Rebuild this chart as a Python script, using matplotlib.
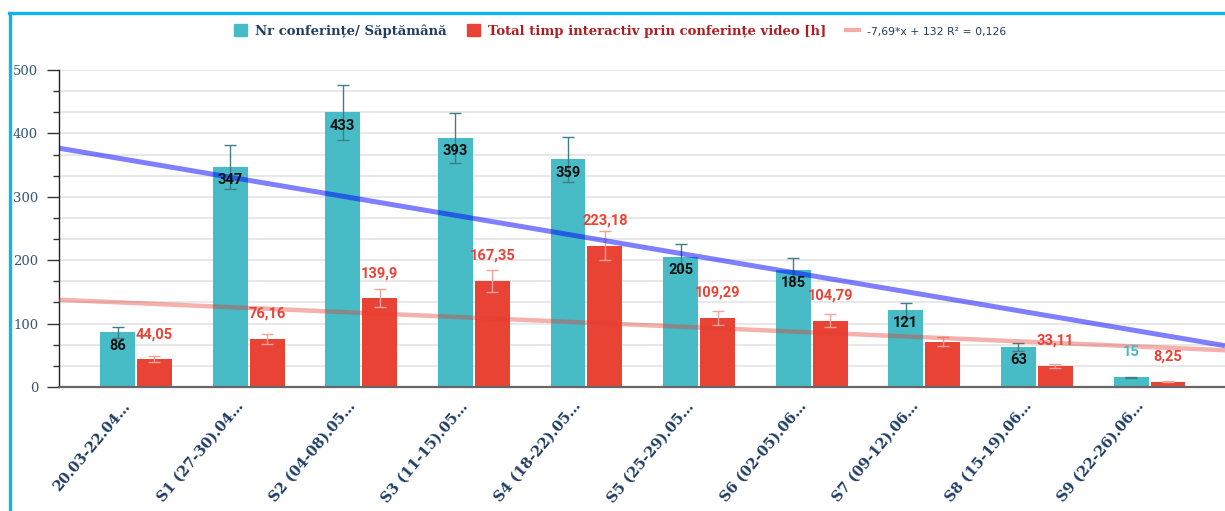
import numpy as np
import matplotlib
matplotlib.use("Agg")
import matplotlib.pyplot as plt
from matplotlib.patches import Patch
from matplotlib.lines import Line2D
from matplotlib.ticker import MultipleLocator
from matplotlib.transforms import ScaledTranslation

categories = ["20.03-22.04…", "S1 (27-30).04…", "S2 (04-08).05…", "S3 (11-15).05…",
              "S4 (18-22).05…", "S5 (25-29).05…", "S6 (02-05).06…", "S7 (09-12).06…",
              "S8 (15-19).06…", "S9 (22-26).06…"]
nr_conf = [86, 347, 433, 393, 359, 205, 185, 121, 63, 15]
timp = [44.05, 76.16, 139.9, 167.35, 223.18, 109.29, 104.79, 71, 33.11, 8.25]
timp_labels = ["44,05", "76,16", "139,9", "167,35", "223,18", "109,29", "104,79", "", "33,11", "8,25"]
err_pct = 10  # percent error bars
series_names = ["Nr conferințe/ Săptămână", "Total timp interactiv prin conferințe video [h]"]
trend_label = "-7,69*x + 132 R² = 0,126"

TEAL = "#47bcc6"
RED = "#e94335"
NAVY = "#1f3d63"

W, H = 1225, 511
fig = plt.figure(figsize=(W / 100, H / 100), dpi=100)
ax = fig.add_axes([59 / W, 1 - 387 / H, 1 - 59 / W, (387 - 70) / H])

x = np.arange(len(categories))
bw = 0.31
off = 0.164
t_err = np.array(nr_conf) * err_pct / 100
r_err = np.array(timp) * err_pct / 100

ax.bar(x - off, nr_conf, bw, color=TEAL, zorder=3)
ax.bar(x + off, timp, bw, color=RED, zorder=3)
ax.errorbar(x - off, nr_conf, yerr=t_err, fmt="none", ecolor="#3f7f84", elinewidth=1,
            capsize=4.5, capthick=1, zorder=4)
ax.errorbar(x + off, timp, yerr=r_err, fmt="none", ecolor="#f5a29c", elinewidth=1,
            capsize=4.5, capthick=1, zorder=4)

xl = (-0.684, 9.67)
ax.set_xlim(*xl)
ax.set_ylim(0, 500)
xs = np.array(xl)
pt = np.polyfit(x, nr_conf, 1)
pr = np.polyfit(x, timp, 1)
ax.plot(xs, np.polyval(pt, xs), color="#0000ff", alpha=0.5, lw=3.6, zorder=5,
        solid_capstyle="butt")
ax.plot(xs, np.polyval(pr, xs), color="#e63c32", alpha=0.4, lw=3.2, zorder=5,
        solid_capstyle="butt")

# data labels
for i, v in enumerate(nr_conf):
    if v > 40:
        ax.annotate(str(v), (x[i] - off, v), xytext=(0, -9.5), textcoords="offset points",
                    ha="center", va="center", fontsize=10.5, fontweight="bold",
                    family="Roboto", color="#111111", zorder=7)
    else:
        ax.annotate(str(v), (x[i] - off, v), xytext=(0, 18), textcoords="offset points",
                    ha="center", va="center", fontsize=10.5, fontweight="bold",
                    family="Roboto", color=TEAL, zorder=7)
for i, v in enumerate(timp):
    if timp_labels[i]:
        ax.annotate(timp_labels[i], (x[i] + off, v), xytext=(0, 18), textcoords="offset points",
                    ha="center", va="center", fontsize=10.5, fontweight="bold",
                    family="Roboto", color=RED, zorder=7)

# axes styling
for s in ["top", "right"]:
    ax.spines[s].set_visible(False)
ax.spines["left"].set_color("#222222")
ax.spines["left"].set_linewidth(1)
ax.spines["bottom"].set_color("#666666")
ax.spines["bottom"].set_linewidth(1.6)
ax.spines["bottom"].set_zorder(6)
ax.yaxis.set_major_locator(MultipleLocator(100))
ax.yaxis.set_minor_locator(MultipleLocator(100 / 3))
ax.tick_params(axis="y", which="major", length=9, width=1, color="#333333",
               labelsize=9.5, labelcolor="#34557a", pad=6)
ax.tick_params(axis="y", which="minor", length=4.5, width=1, color="#333333")
for lab in ax.get_yticklabels():
    lab.set_family("DejaVu Serif")
ax.grid(axis="y", which="both", color="#e4e4e4", lw=1.2, zorder=0)
ax.set_axisbelow(True)

ax.set_xticks(x)
ax.set_xticklabels(categories, rotation=50, ha="right", va="center",
                   rotation_mode="anchor", fontsize=10.5, fontweight="bold",
                   family="DejaVu Serif", color=NAVY)
ax.tick_params(axis="x", length=0, pad=12)
shift = ScaledTranslation(-0.08, 0.0, fig.dpi_scale_trans)
for lab in ax.get_xticklabels():
    lab.set_transform(lab.get_transform() + shift)

# legend
handles = [Patch(color=TEAL), Patch(color=RED),
           Line2D([0], [0], color="#f5aaa6", lw=3)]
leg = fig.legend(handles, series_names + [trend_label], loc="center",
                 bbox_to_anchor=(620 / W, 1 - 31 / H), ncol=3, frameon=False,
                 handlelength=1.0, handleheight=1.0, handletextpad=0.6,
                 columnspacing=1.5, fontsize=9.5)
texts = leg.get_texts()
texts[0].set_color(NAVY)
texts[0].set_fontweight("bold")
texts[0].set_family("DejaVu Serif")
texts[1].set_color("#b01c20")
texts[1].set_fontweight("bold")
texts[1].set_family("DejaVu Serif")
texts[2].set_color(NAVY)
texts[2].set_fontsize(7.8)
texts[2].set_family("DejaVu Sans")

# blue frame lines
fig.add_artist(Line2D([9.5 / W, 9.5 / W], [0, 1 - 13.5 / H], transform=fig.transFigure,
                      color="#11b2ee", lw=2.4))
fig.add_artist(Line2D([8.5 / W, 1], [1 - 13.5 / H, 1 - 13.5 / H], transform=fig.transFigure,
                      color="#11b2ee", lw=2.4))

fig.savefig("out.png", dpi=100)
